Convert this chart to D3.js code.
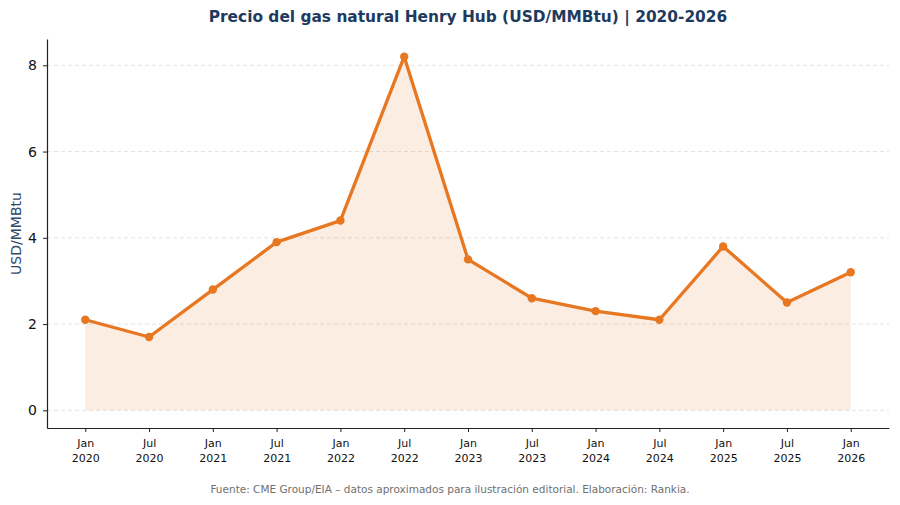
<!DOCTYPE html>
<html>
<head>
<meta charset="utf-8">
<script src="https://cdn.jsdelivr.net/npm/d3@7"></script>
<style>
    body { margin: 0; background: #fff; }
    text { font-family: "DejaVu Sans", sans-serif; }
</style>
</head>
<body>
<svg id="chart" width="900" height="505"></svg>
<script>
// data
var months = ["Jan", "Jul", "Jan", "Jul", "Jan", "Jul", "Jan", "Jul", "Jan", "Jul", "Jan", "Jul", "Jan"];
var years = ["2020", "2020", "2021", "2021", "2022", "2022", "2023", "2023", "2024", "2024", "2025", "2025", "2026"];
var prices = [2.1, 1.7, 2.8, 3.9, 4.4, 8.2, 3.5, 2.6, 2.3, 2.1, 3.8, 2.5, 3.2];
var yTicks = [0, 2, 4, 6, 8];

var width = 900;
var height = 505;
var mLeft = 47, mRight = 889, mTop = 39, mBottom = 428;

var svg = d3.select("#chart");

var idx = d3.range(prices.length);

// matplotlib-like 5% margins
var x = d3.scaleLinear()
    .domain([-0.6, prices.length - 1 + 0.6])
    .range([mLeft, mRight]);

var yMax = d3.max(prices);
var y = d3.scaleLinear()
    .domain([-yMax * 0.05, yMax * 1.05])
    .range([mBottom, mTop]);

// grid
svg.append("g")
    .selectAll("line")
    .data(yTicks)
    .enter()
    .append("line")
    .attr("x1", mLeft)
    .attr("x2", mRight)
    .attr("y1", d => y(d))
    .attr("y2", d => y(d))
    .attr("stroke", "#e3e3e3")
    .attr("stroke-width", 1)
    .attr("stroke-dasharray", "4,3");

// area fill
var area = d3.area()
    .x(i => x(i))
    .y0(y(0))
    .y1(i => y(prices[i]));

svg.append("path")
    .datum(idx)
    .attr("d", area)
    .attr("fill", "#e87722")
    .attr("fill-opacity", 0.13);

// line
var line = d3.line()
    .x(i => x(i))
    .y(i => y(prices[i]));

svg.append("path")
    .datum(idx)
    .attr("d", line)
    .attr("fill", "none")
    .attr("stroke", "#e87722")
    .attr("stroke-width", 3.3)
    .attr("stroke-linejoin", "round");

svg.append("g")
    .selectAll("circle")
    .data(idx)
    .enter()
    .append("circle")
    .attr("cx", i => x(i))
    .attr("cy", i => y(prices[i]))
    .attr("r", 4.2)
    .attr("fill", "#e87722");

// axes
var yAxis = d3.axisLeft(y)
    .tickValues(yTicks)
    .tickSize(4)
    .tickSizeOuter(0)
    .tickPadding(6);

var gy = svg.append("g")
    .attr("transform", `translate(${mLeft},0)`)
    .call(yAxis);
gy.select(".domain").attr("stroke", "#222").attr("stroke-width", 1.2);
gy.selectAll(".tick line").attr("stroke", "#222");
gy.selectAll(".tick text")
    .attr("font-size", 14)
    .attr("fill", "#111")
    .style("font-family", "DejaVu Sans, sans-serif");

var xAxis = d3.axisBottom(x)
    .tickValues(idx)
    .tickSize(4)
    .tickSizeOuter(0)
    .tickFormat("");

var gx = svg.append("g")
    .attr("transform", `translate(0,${mBottom})`)
    .call(xAxis);
gx.select(".domain").attr("stroke", "#222").attr("stroke-width", 1.2);
gx.selectAll(".tick line").attr("stroke", "#222");

gx.selectAll(".tick")
    .append("text")
    .attr("fill", "#111")
    .attr("font-size", 11)
    .attr("text-anchor", "middle")
    .style("font-family", "DejaVu Sans, sans-serif")
    .each(function (i) {
        var t = d3.select(this);
        t.append("tspan").attr("x", 0).attr("y", 19).text(months[i]);
        t.append("tspan").attr("x", 0).attr("y", 34).text(years[i]);
    });

// y label
svg.append("text")
    .attr("transform", `translate(21,${(mTop + mBottom) / 2}) rotate(-90)`)
    .attr("text-anchor", "middle")
    .attr("font-size", 14)
    .attr("fill", "#2e4a6b")
    .text("USD/MMBtu");

// title
svg.append("text")
    .attr("x", (mLeft + mRight) / 2)
    .attr("y", 22)
    .attr("text-anchor", "middle")
    .attr("font-size", 15.4)
    .attr("font-weight", "bold")
    .attr("fill", "#1f3a5f")
    .text("Precio del gas natural Henry Hub (USD/MMBtu) | 2020-2026");

// footer
svg.append("text")
    .attr("x", width / 2)
    .attr("y", 493)
    .attr("text-anchor", "middle")
    .attr("font-size", 10.5)
    .attr("fill", "#707070")
    .text("Fuente: CME Group/EIA – datos aproximados para ilustración editorial. Elaboración: Rankia.");
</script>
</body>
</html>
